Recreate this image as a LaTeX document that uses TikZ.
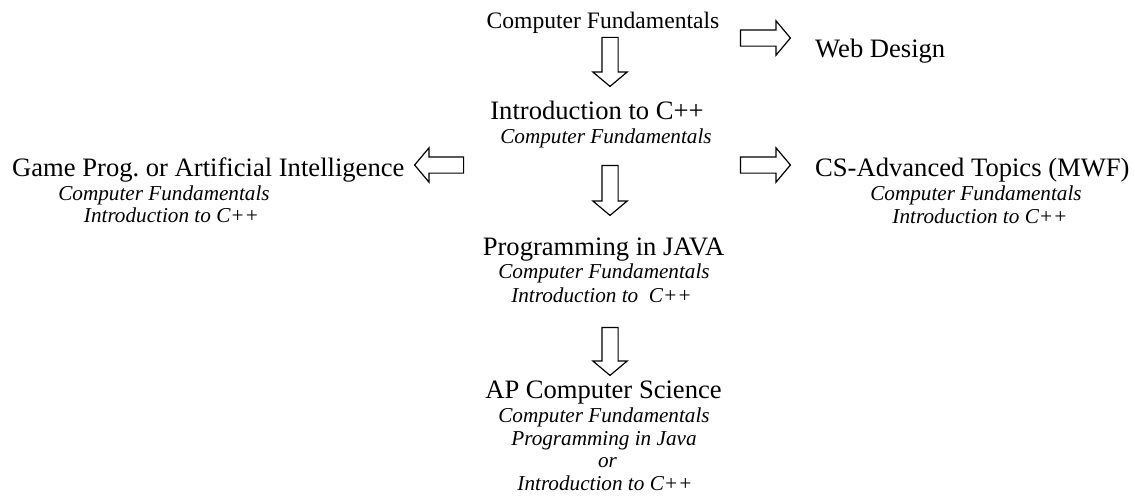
\documentclass[tikz,border=0pt]{standalone}
\usepackage{fontspec}
\setmainfont{Liberation Serif}
\usetikzlibrary{shapes.arrows}
\begin{document}
\frenchspacing
\begin{tikzpicture}[x=1pt,y=-1pt,
  course/.style={font=\fontsize{26.6}{30}\selectfont, inner sep=0pt, anchor=base},
  prereq/.style={font=\fontsize{21.2}{23}\selectfont\itshape, inner sep=0pt, anchor=base},
  blockarrow/.style={single arrow, draw=black, line width=1.2pt, fill=white,
    inner sep=7.5pt, minimum width=33pt, single arrow head extend=9pt,
    single arrow tip angle=100, minimum height=#1},
  pointdown/.style={shape border rotate=270},
  pointright/.style={shape border rotate=0},
  pointleft/.style={shape border rotate=180}]
\useasboundingbox (0,0) rectangle (1135,498);

% starting course and its follow-ups
\node[course, font=\fontsize{23.6}{28}\selectfont] (cf) at (603,28) {Computer Fundamentals};
\node[course, anchor=base west] (web) at (815,57) {Web Design};

\node[course] (cpp) at (597,119) {Introduction to C++};
\node[prereq] (cppreqa) at (606,143) {Computer Fundamentals};

\node[course, anchor=base west] (game) at (12,176) {Game Prog. or Artificial Intelligence};
\node[prereq] (gamereqa) at (164,200) {Computer Fundamentals};
\node[prereq] (gamereqb) at (171.5,222) {Introduction to C++};

\node[course, anchor=base west] (adv) at (815,176) {CS-Advanced Topics (MWF)};
\node[prereq] (advreqa) at (976,200) {Computer Fundamentals};
\node[prereq] (advreqb) at (980,223) {Introduction to C++};

\node[course] (java) at (603.5,255) {Programming in JAVA};
\node[prereq] (javareqa) at (604,278) {Computer Fundamentals};
\node[prereq] (javareqb) at (601.5,302) {Introduction to\ \ C++};

\node[course] (ap) at (603.5,398) {AP Computer Science};
\node[prereq] (apreqa) at (604,422) {Computer Fundamentals};
\node[prereq] (apreqb) at (604,445) {Programming in Java};
\node[prereq] (apor) at (607.5,467) {or};
\node[prereq] (apreqc) at (605,490) {Introduction to C++};

% hollow block arrows between the courses
\node[blockarrow=49pt, pointdown] (cf-cpp) at (610,58.5) {};
\node[blockarrow=50pt, pointright] (cf-web) at (762,38) {};
\node[blockarrow=50pt, pointdown] (cpp-java) at (610,187) {};
\node[blockarrow=50pt, pointright] (cpp-adv) at (762,165) {};
\node[blockarrow=49pt, pointleft] (cpp-game) at (442.5,165) {};
\node[blockarrow=48pt, pointdown] (java-ap) at (610,348) {};
\end{tikzpicture}
\end{document}
